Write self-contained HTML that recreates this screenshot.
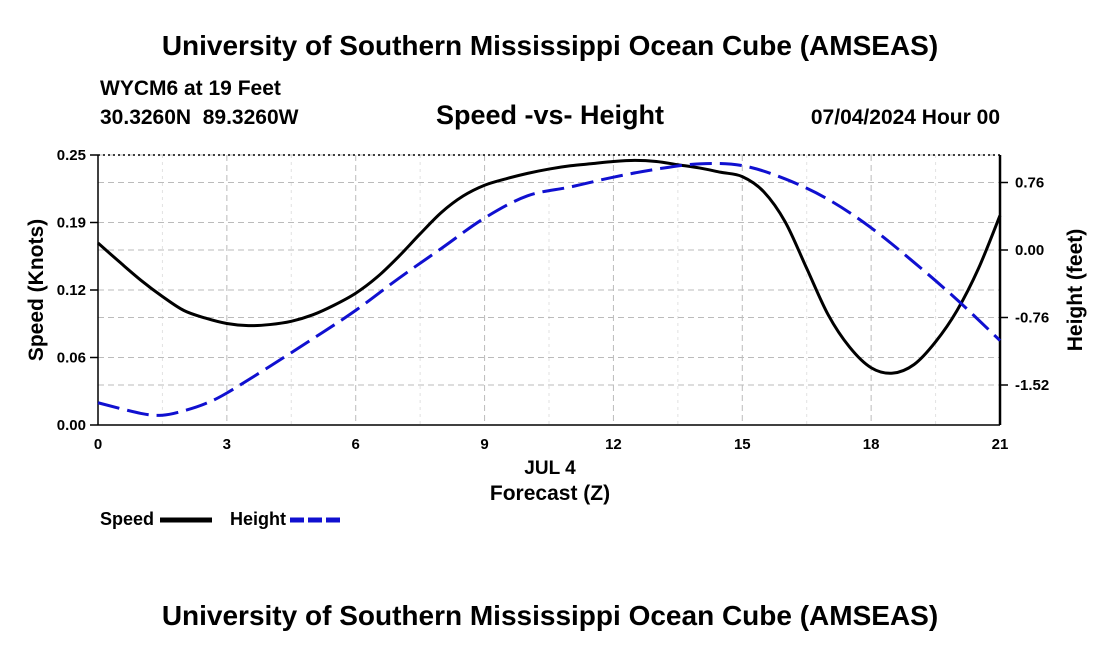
<!DOCTYPE html>
<html><head><meta charset="utf-8"><style>
body{margin:0;background:#fff;width:1100px;height:650px;overflow:hidden}
text{font-family:"Liberation Sans",sans-serif;font-weight:bold;fill:#000}
</style></head><body>
<svg id="chart" width="1100" height="650">
<text x="550" y="55" font-size="28" text-anchor="middle">University of Southern Mississippi Ocean Cube (AMSEAS)</text>
<text x="100" y="95" font-size="21">WYCM6 at 19 Feet</text>
<text x="100" y="124" font-size="21" xml:space="preserve">30.3260N  89.3260W</text>
<text x="550" y="124" font-size="27" text-anchor="middle">Speed -vs- Height</text>
<text x="1000" y="124" font-size="21" text-anchor="end">07/04/2024 Hour 00</text>
<g id="grid"></g><g id="axes"></g><g id="series"></g>
<text x="550" y="474" font-size="19" text-anchor="middle">JUL 4</text>
<text x="550" y="500" font-size="21" text-anchor="middle">Forecast (Z)</text>
<text transform="translate(43,290) rotate(-90)" font-size="21" text-anchor="middle">Speed (Knots)</text>
<text transform="translate(1082,290) rotate(-90)" font-size="21" text-anchor="middle">Height (feet)</text>
<g><text x="100" y="525" font-size="18">Speed</text><line x1="160" y1="520" x2="212" y2="520" stroke="#000" stroke-width="5"/></g>
<g><text x="230" y="525" font-size="18">Height</text><line x1="290" y1="520" x2="342" y2="520" stroke="#1010d0" stroke-width="5" stroke-dasharray="14,4"/></g>
<text x="550" y="625" font-size="28" text-anchor="middle">University of Southern Mississippi Ocean Cube (AMSEAS)</text>
</svg>
<script>
const speedHours=[0,0.5,1,1.5,2,2.5,3,3.5,4,4.5,5,5.5,6,6.5,7,7.5,8,8.5,9,9.5,10,10.5,11,11.5,12,12.5,13,13.5,14,14.5,15,15.5,16,16.5,17,17.5,18,18.5,19,19.5,20,20.5,21];
const speedValues=[0.1685,0.151,0.134,0.119,0.106,0.099,0.094,0.092,0.093,0.096,0.102,0.111,0.122,0.137,0.156,0.177,0.197,0.212,0.222,0.228,0.233,0.237,0.240,0.242,0.244,0.245,0.244,0.241,0.238,0.234,0.230,0.216,0.188,0.145,0.102,0.072,0.053,0.048,0.056,0.077,0.106,0.145,0.194];
const heightHours=[0,1,1.5,2,2.5,3,4,5,6,7,8,9,10,11,12,13,14,15,16,17,18,19,20,21];
const heightValues=[-1.72,-1.84,-1.86,-1.81,-1.73,-1.61,-1.31,-1.00,-0.68,-0.32,0.02,0.36,0.61,0.71,0.82,0.91,0.97,0.95,0.80,0.57,0.25,-0.14,-0.56,-1.02];
const xTicks=[0,3,6,9,12,15,18,21];
const leftTicks=[0,0.0625,0.125,0.1875,0.25];
const leftTickLabels=["0.00","0.06","0.12","0.19","0.25"];
const rightTicks=[-1.52,-0.76,0,0.76];
const rightTickLabels=["-1.52","-0.76","0.00","0.76"];
const X0=98,X1=1000,Y0=425,Y1=155;
const x=h=>X0+(h/21)*(X1-X0);
const yL=v=>Y0-(v/0.25)*(Y0-Y1);
const yR=v=>250-(v/0.76)*67.5;
const NS="http://www.w3.org/2000/svg";
function mk(parent,tag,attrs){const e=document.createElementNS(NS,tag);for(const k in attrs)e.setAttribute(k,attrs[k]);document.getElementById(parent).appendChild(e);return e;}
xTicks.forEach(t=>{
 const g=mk('grid','line',{x1:x(t),x2:x(t),y1:Y1,y2:Y0,stroke:'#bbb','stroke-dasharray':'6,4'});
 
 
 const l=mk('axes','text',{x:x(t),y:Y0+24,'font-size':15,'text-anchor':'middle'});l.textContent=t;
 
 
});
[1.5,4.5,7.5,10.5,13.5,16.5,19.5].forEach(t=>{
 const g=mk('grid','line',{x1:x(t),x2:x(t),y1:Y1,y2:Y0,stroke:'#e2e2e2','stroke-dasharray':'3,4'});
 
 
});
leftTicks.forEach((t,i)=>{
 const g=mk('grid','line',{x1:X0,x2:X1,y1:yL(t),y2:yL(t),stroke:'#bbb','stroke-dasharray':'6,4'});
 
 
 const l=mk('axes','text',{x:X0-12,y:yL(t)+5,'font-size':15,'text-anchor':'end'});l.textContent=leftTickLabels[i];
 
 
 mk('axes','line',{x1:X0-8,x2:X0,y1:yL(t),y2:yL(t),stroke:'#000','stroke-width':1.5});
});
rightTicks.forEach((t,i)=>{
 const g=mk('grid','line',{x1:X0,x2:X1,y1:yR(t),y2:yR(t),stroke:'#bbb','stroke-dasharray':'6,4'});
 
 
 const l=mk('axes','text',{x:X1+15,y:yR(t)+5,'font-size':15});l.textContent=rightTickLabels[i];
 
 
 mk('axes','line',{x1:X1,x2:X1+8,y1:yR(t),y2:yR(t),stroke:'#000','stroke-width':1.5});
});
const b1=mk('axes','line',{x1:X0,x2:X0,y1:Y1,y2:Y0,stroke:'#000','stroke-width':1.5});

const b2=mk('axes','line',{x1:X1,x2:X1,y1:Y1,y2:Y0,stroke:'#000','stroke-width':2.5});

const b3=mk('axes','line',{x1:X0,x2:X1,y1:Y0,y2:Y0,stroke:'#000','stroke-width':1.5});

const b4=mk('axes','line',{x1:X0,x2:X1,y1:Y1,y2:Y1,stroke:'#000','stroke-width':1.5,'stroke-dasharray':'2,3'});

function smooth(pts){let d=`M${pts[0][0]},${pts[0][1]}`;for(let i=0;i<pts.length-1;i++){const p0=pts[i-1]||pts[i],p1=pts[i],p2=pts[i+1],p3=pts[i+2]||p2;d+=` C${p1[0]+(p2[0]-p0[0])/6},${p1[1]+(p2[1]-p0[1])/6} ${p2[0]-(p3[0]-p1[0])/6},${p2[1]-(p3[1]-p1[1])/6} ${p2[0]},${p2[1]}`;}return d;}
const sp=mk('series','path',{d:smooth(speedHours.map((h,i)=>[x(h),yL(speedValues[i])])),fill:'none',stroke:'#000','stroke-width':3});


const hp=mk('series','path',{d:smooth(heightHours.map((h,i)=>[x(h),yR(heightValues[i])])),fill:'none',stroke:'#1010d0','stroke-width':3,'stroke-dasharray':'22,8'});


</script>
</body></html>
